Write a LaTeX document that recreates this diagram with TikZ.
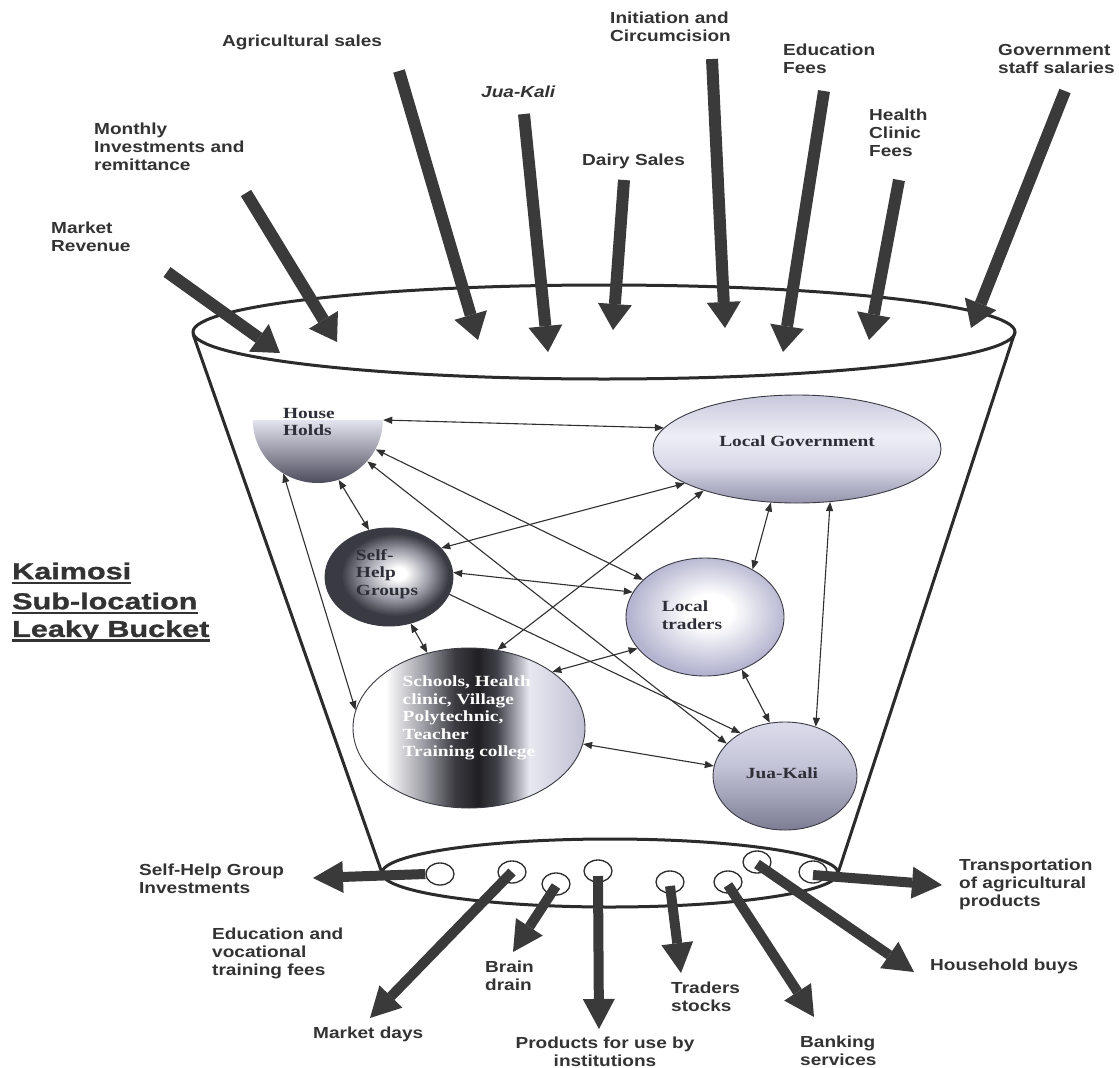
\documentclass[tikz,border=0pt]{standalone}
\usepackage{fontspec}
\setmainfont{Liberation Sans}
\newfontfamily\labfont[FakeStretch=1.19]{Liberation Sans}
\newfontfamily\titfont[FakeStretch=1.33,FakeBold=1.2]{Liberation Sans}
\newfontfamily\nodfont[FakeStretch=1.25]{Liberation Serif}
\usetikzlibrary{arrows.meta,shapes.geometric}

\definecolor{ink}{HTML}{333333}
\definecolor{arrowcol}{HTML}{3A3A3A}
\definecolor{bucketcol}{HTML}{2B2B2B}
\definecolor{conncol}{HTML}{303030}
\definecolor{nodeline}{HTML}{3A3A44}
\definecolor{nodeink}{HTML}{2E2E38}
\definecolor{hhdark}{HTML}{4C4C5C}
\definecolor{hhmid}{HTML}{9A9AAE}
\definecolor{hhtop}{HTML}{E4E4F0}
\definecolor{shgmid}{HTML}{9898A4}
\definecolor{shgdark}{HTML}{3A3A42}
\definecolor{ltedge}{HTML}{B4B4D0}
\definecolor{lgbot}{HTML}{9494AC}
\definecolor{lgmid}{HTML}{D8D8E8}
\definecolor{lglight}{HTML}{EEEEF6}
\definecolor{lgtop}{HTML}{C8C8DC}
\definecolor{jktop}{HTML}{DCDCEC}
\definecolor{jkmid}{HTML}{C4C4D8}
\definecolor{jkbot}{HTML}{7C7C94}
\definecolor{schA}{HTML}{A0A0A8}
\definecolor{schB}{HTML}{3A3A40}
\definecolor{schC}{HTML}{202024}
\definecolor{schD}{HTML}{404048}
\definecolor{schE}{HTML}{E8E8F0}
\definecolor{schF}{HTML}{C0C0D4}

\pgfdeclareradialshading{shgshade}{\pgfpoint{4bp}{2bp}}{color(0bp)=(white); color(3bp)=(white); color(13bp)=(shgmid); color(21bp)=(shgdark); color(25bp)=(shgdark); color(50bp)=(shgdark)}
\pgfdeclareradialshading{ltshade}{\pgfpoint{2bp}{3bp}}{color(0bp)=(white); color(7bp)=(white); color(25bp)=(ltedge); color(50bp)=(ltedge)}
\pgfdeclareverticalshading{lgshade}{100bp}{color(0bp)=(lgbot); color(25bp)=(lgbot); color(42bp)=(lgmid); color(56bp)=(lglight); color(75bp)=(lgtop); color(100bp)=(lgtop)}
\pgfdeclareverticalshading{jkshade}{100bp}{color(0bp)=(jkbot); color(25bp)=(jkbot); color(55bp)=(jkmid); color(75bp)=(jktop); color(100bp)=(jktop)}
\pgfdeclarehorizontalshading{schshade}{100bp}{color(0bp)=(white); color(32bp)=(white); color(40bp)=(schA); color(47bp)=(schB); color(52bp)=(schC); color(56bp)=(schD); color(63bp)=(schE); color(75bp)=(schF); color(100bp)=(schF)}

\begin{document}
\begin{tikzpicture}[x=1pt,y=-1pt,
  lab/.style={font=\labfont\bfseries\fontsize{16}{18}\selectfont, text=ink, align=left, anchor=west, inner sep=0pt},
  tit/.style={font=\titfont\bfseries\fontsize{23}{30}\selectfont, text=ink, anchor=west, inner sep=0pt},
  ntext/.style={font=\nodfont\bfseries\fontsize{15.5}{17.5}\selectfont, text=nodeink, align=left, inner sep=0pt},
  blob/.style={ellipse, inner sep=0pt, draw=nodeline, line width=0.9pt, shade},
  inarrow/.style={line width=12pt, draw=arrowcol, -{Triangle[length=26pt,width=34pt,line width=0pt]}},
  outarrow/.style={line width=10pt, draw=arrowcol, -{Triangle[length=30pt,width=32pt,line width=0pt]}},
  conn/.style={draw=conncol, line width=1.1pt, {Triangle[length=9pt,width=7pt]}-{Triangle[length=9pt,width=7pt]}},
  conn1/.style={draw=conncol, line width=1.1pt, -{Triangle[length=9pt,width=7pt]}},
  hole/.style={draw=bucketcol, line width=1.3pt, fill=white}]

\useasboundingbox (0,0) rectangle (1119,1068);
\fill[white] (0,0) rectangle (1119,1068);

% ---------- bucket ----------
\draw[bucketcol, line width=3pt] (604,332) ellipse [x radius=411, y radius=47];
\draw[bucketcol, line width=3pt] (193,334) -- (382,873);
\draw[bucketcol, line width=3pt] (1015,332) -- (838,873);
\draw[bucketcol, line width=3pt] (610,873) ellipse [x radius=228, y radius=34];

\foreach \n/\p in {h1/{(440,874)}, h2/{(512,872)}, h3/{(556,884)}, h4/{(598,871)}, h5/{(670,882)}, h6/{(728,882)}, h7/{(757,862)}, h8/{(813,872)}}
  \node[hole, ellipse, minimum width=28pt, minimum height=22pt, inner sep=0pt] (\n) at \p {};

% ---------- inner nodes ----------
\node[ellipse, inner sep=0pt, minimum width=130pt, minimum height=126pt] (hh) at (318,420) {};
\shade[top color=hhtop, middle color=hhmid, bottom color=hhdark]
  (hh.west) arc[start angle=180, end angle=0, x radius=65, y radius=63] -- cycle;
\node[blob, shading=shgshade, minimum width=128pt, minimum height=98pt] (shg) at (389,577) {};
\node[blob, shading=lgshade, minimum width=288pt, minimum height=108pt] (lg) at (797,449) {};
\node[blob, shading=ltshade, minimum width=158pt, minimum height=118pt] (lt) at (705,617) {};
\node[blob, shading=schshade, minimum width=232pt, minimum height=160pt] (sch) at (469,728) {};
\node[blob, shading=jkshade, minimum width=144pt, minimum height=108pt] (jk) at (785,776) {};

% ---------- connectors ----------
\draw[conn] (hh.0) -- (lg.171.6);
\draw[conn] (hh.-71.3) -- (shg.113.7);
\draw[conn] (hh.-27.6) -- (lt.149.8);
\draw[conn] (hh.-40.8) -- (jk.151.2);
\draw[conn] (hh.-123.2) -- (sch.171.3);
\draw[conn] (shg.29.1) -- (lg.-163.8);
\draw[conn] (shg.4.3) -- (lt.161.4);
\draw[conn1] (shg.-16.5) -- (jk.136.2);
\draw[conn] (shg.-65.4) -- (sch.119.8);
\draw[conn] (sch.70) -- (lg.-156.3);
\draw[conn] (sch.34.4) -- (lt.-155.5);
\draw[conn] (sch.-8.8) -- (jk.172.2);
\draw[conn] (lg.-116.6) -- (lt.45.6);
\draw[conn] (lt.-55.4) -- (jk.106.9);
\draw[conn] (lg.-58.6) -- (jk.58);

% ---------- node texts ----------
\node[ntext] (hhT) at (309,422) {House\\Holds};
\node[ntext] (shgT) at (387,574) {Self-\\Help\\Groups};
\node[ntext] (lgT) at (797,441) {Local Government};
\node[ntext] (ltT) at (692,615) {Local\\traders};
\node[ntext, text=white] (schT) at (469,718) {Schools, Health\\clinic, Village\\Polytechnic,\\Teacher\\Training college};
\node[ntext] (jkT) at (782,773) {Jua-Kali};

% ---------- inflow arrows ----------
\coordinate (a1s) at (167,272); \coordinate (a1e) at (280,353);
\coordinate (a2s) at (246,193); \coordinate (a2e) at (337,342);
\coordinate (a3s) at (399,71);  \coordinate (a3e) at (478,340);
\coordinate (a4s) at (524,114); \coordinate (a4e) at (548,352);
\coordinate (a5s) at (624,180); \coordinate (a5e) at (613,330);
\coordinate (a6s) at (712,59);  \coordinate (a6e) at (725,328);
\coordinate (a7s) at (824,91);  \coordinate (a7e) at (783,352);
\coordinate (a8s) at (899,180); \coordinate (a8e) at (869,340);
\coordinate (a9s) at (1065,91); \coordinate (a9e) at (971,328);
\foreach \i in {1,...,9} \draw[inarrow] (a\i s) -- (a\i e);

% ---------- outflow arrows ----------
\coordinate (b1e) at (313,878);
\coordinate (b2e) at (370,1018);
\coordinate (b3e) at (513,952);
\coordinate (b4e) at (599,1029);
\coordinate (b5e) at (681,973);
\coordinate (b6e) at (814,1017);
\coordinate (b7e) at (914,972);
\coordinate (b8e) at (942,885);
\draw[outarrow] (h1.west) -- (b1e);
\draw[outarrow] (h2.center) -- (b2e);
\draw[outarrow] ([yshift=-2pt]h3.center) -- (b3e);
\draw[outarrow] ([yshift=-5pt]h4.center) -- (b4e);
\draw[outarrow] ([yshift=-4pt]h5.center) -- (b5e);
\draw[outarrow] ([yshift=-3pt]h6.center) -- (b6e);
\draw[outarrow] ([yshift=-2pt]h7.center) -- (b7e);
\draw[outarrow] ([yshift=-3pt]h8.center) -- (b8e);

% ---------- labels ----------
\node[lab] (l1) at (222,42) {Agricultural sales};
\node[lab] (l2) at (94,147) {Monthly\\Investments and\\remittance};
\node[lab] (l3) at (51,237) {Market\\Revenue};
\node[lab, font=\labfont\bfseries\itshape\fontsize{16}{18}\selectfont] (l4) at (481,92) {Jua-Kali};
\node[lab] (l5) at (582,161) {Dairy Sales};
\node[lab] (l6) at (610,27) {Initiation and\\Circumcision};
\node[lab] (l7) at (783,59) {Education\\Fees};
\node[lab] (l8) at (869,133) {Health\\Clinic\\Fees};
\node[lab] (l9) at (998,59) {Government\\staff salaries};

\node[lab] (m1) at (139,879) {Self-Help Group\\Investments};
\node[lab] (m2) at (212,953) {Education and\\vocational\\training fees};
\node[lab] (m3) at (313,1034) {Market days};
\node[lab] (m4) at (485,976) {Brain\\drain};
\node[lab, align=center, anchor=center] (m5) at (605,1052) {Products for use by\\institutions};
\node[lab] (m6) at (671,997) {Traders\\stocks};
\node[lab] (m7) at (800,1051) {Banking\\services};
\node[lab] (m8) at (930,966) {Household buys};
\node[lab] (m9) at (959,884) {Transportation\\of agricultural\\products};

% ---------- title ----------
\node[tit] (t1) at (12,571) {Kaimosi};
\node[tit] (t2) at (12,601) {Sub-location};
\node[tit] (t3) at (12,631) {Leaky Bucket};
\foreach \t in {t1,t2,t3}
  \draw[ink, line width=2.4pt] ([yshift=-3.5pt]\t.base west) -- ([yshift=-3.5pt]\t.base east);
\end{tikzpicture}
\end{document}
